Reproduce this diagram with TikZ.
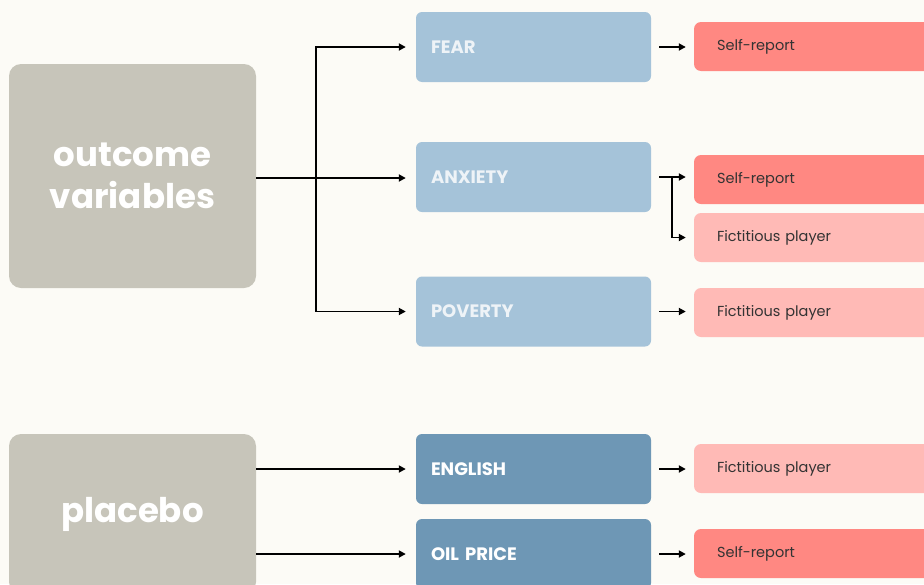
\documentclass[tikz,border=0pt]{standalone}
\usepackage{fontspec}
\setmainfont{Poppins}
\usetikzlibrary{arrows.meta,calc,positioning}
\definecolor{bgcream}{HTML}{FCFBF6}
\definecolor{boxgrey}{HTML}{C7C5BA}
\definecolor{lightblue}{HTML}{A5C3D9}
\definecolor{darkblue}{HTML}{6E97B5}
\definecolor{redbox}{HTML}{FF8882}
\definecolor{pinkbox}{HTML}{FFBAB6}
\definecolor{labeltext}{HTML}{333333}
\definecolor{softwhite}{HTML}{EEF3F7}

\begin{document}
\begin{tikzpicture}[x=1pt,y=1pt,>={Triangle[length=7pt,width=7pt]},
    group/.style={fill=boxgrey,rounded corners=12pt,minimum width=247pt,
      align=center,text=white,font=\fontsize{34}{42}\selectfont\bfseries},
    measure/.style={rounded corners=6pt,minimum height=70pt,text width=205pt,
      inner xsep=15pt,align=left,font=\fontsize{18}{20}\selectfont\bfseries},
    source/.style={rounded corners=7pt,minimum height=49pt,text width=194pt,
      inner xsep=23pt,align=left,text=labeltext,font=\fontsize{14.5}{16}\selectfont},
    link/.style={->,line width=1.8pt}]
  \clip (0,0) rectangle (924,-584);
  \fill[bgcream] (0,0) rectangle (924,-584);
  % left groups
  \node[group,minimum height=224pt] (outcome) at (132.5,-176) {outcome\\variables};
  \node[group,minimum height=160pt] (placebo) at (132.5,-514) {placebo};
  % measured variables
  \node[measure,fill=lightblue,text=softwhite] (fear) at (533.5,-47) {FEAR};
  \node[measure,fill=lightblue,text=softwhite] (anxiety) at (533.5,-177) {ANXIETY};
  \node[measure,fill=lightblue,text=softwhite] (poverty) at (533.5,-311.5) {POVERTY};
  \node[measure,fill=darkblue,text=white] (english) at (533.5,-469) {ENGLISH};
  \node[measure,fill=darkblue,text=white] (oil) at (533.5,-554) {OIL PRICE};
  % sources
  \node[source,fill=redbox] (selfA) at (814,-46.5) {Self-report};
  \node[source,fill=redbox] (selfB) at (814,-179.5) {Self-report};
  \node[source,fill=pinkbox] (fictA) at (814,-237.5) {Fictitious player};
  \node[source,fill=pinkbox] (fictB) at (814,-312.5) {Fictitious player};
  \node[source,fill=pinkbox] (fictC) at (814,-468.5) {Fictitious player};
  \node[source,fill=redbox] (selfC) at (814,-553.5) {Self-report};
  % tree from outcome variables
  \coordinate (split) at (316,-178);
  \draw[link,shorten >=10pt] (outcome.east |- split) -- (anxiety.west |- split);
  \draw[link,shorten >=10pt] (split) |- (fear.west);
  \draw[link,shorten >=10pt] (split) |- (poverty.west);
  % placebo arrows
  \draw[link,shorten >=10pt] (placebo.east |- english.west) -- (english.west);
  \draw[link,shorten >=10pt] (placebo.east |- oil.west) -- (oil.west);
  % to sources
  \draw[link,shorten <=8pt,shorten >=8pt] (fear.east) -- (fear.east -| selfA.west);
  \draw[link,shorten <=8pt,shorten >=8pt] (anxiety.east) -- (anxiety.east -| selfB.west);
  \coordinate (fork) at (672,-177);
  \draw[link,shorten >=8pt] (fork) |- (fictA.west);
  \draw[link,shorten <=8pt,shorten >=8pt] (poverty.east) -- (poverty.east -| fictB.west);
  \draw[link,shorten <=8pt,shorten >=8pt] (english.east) -- (english.east -| fictC.west);
  \draw[link,shorten <=8pt,shorten >=8pt] (oil.east) -- (oil.east -| selfC.west);
\end{tikzpicture}
\end{document}
